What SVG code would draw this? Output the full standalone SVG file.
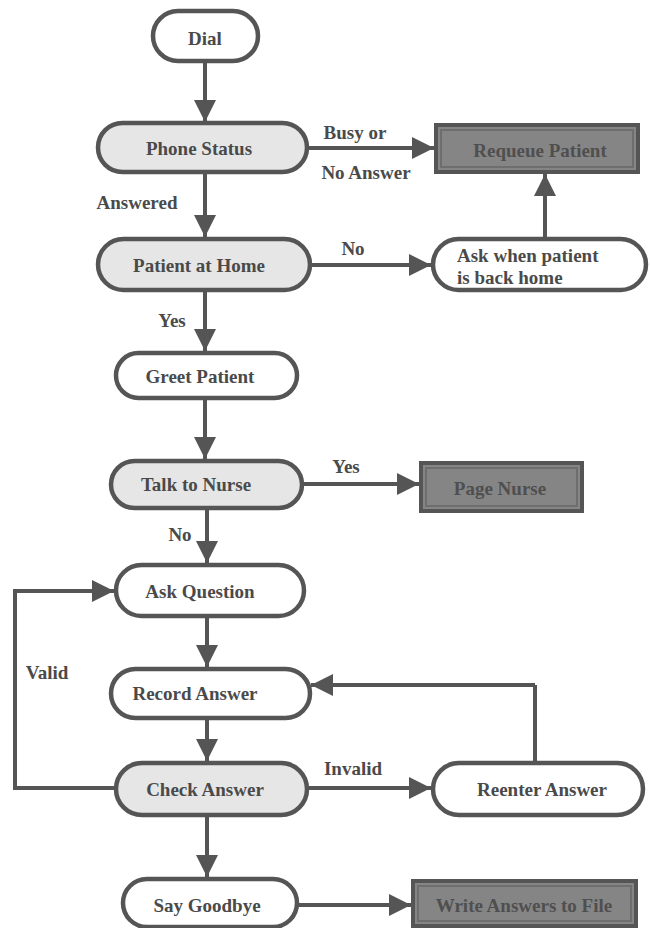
<svg xmlns="http://www.w3.org/2000/svg" width="650" height="928" viewBox="0 0 650 928" font-family="'Liberation Serif','Times New Roman',serif">
<defs>
<marker id="ah" viewBox="0 0 10 10" refX="10" refY="5" markerWidth="6" markerHeight="5.5" orient="auto" markerUnits="strokeWidth">
<path d="M0,0 L10,5 L0,10 z" fill="#555"/>
</marker>
</defs>
<style>
text{font-family:'Liberation Serif','Times New Roman',serif;font-weight:bold;font-size:19px;fill:#4a4a4a}
.n{text-anchor:middle;dominant-baseline:central}
.t{fill:#fff;stroke:#555;stroke-width:4.5}
.d{fill:#e6e6e6;stroke:#555;stroke-width:4.5}
.k{fill:#858585;stroke:#555;stroke-width:4}
.k2{fill:none;stroke:#6e6e6e;stroke-width:2}
.kt{fill:#4f4f4f}
.c path{fill:none;stroke:#555;stroke-width:4;marker-end:url(#ah)}
.c .p{marker-end:none}
</style>
<rect width="650" height="928" fill="#fff"/>
<g class="c" id="connectors">
<path d="M205,62 L205,122"/>
<path d="M307,148 L434,148"/>
<path d="M205,172 L205,237"/>
<path d="M310,265 L431,265"/>
<path d="M545,238 L545,174"/>
<path d="M205,290 L205,351"/>
<path d="M205,398 L205,459"/>
<path d="M302,484 L419,484"/>
<path d="M207,508 L207,563"/>
<path d="M207,616 L207,667"/>
<path d="M207,718 L207,761"/>
<path d="M115,788 L15,788 L15,591 L114,591"/>
<path d="M307,788 L431,788"/>
<path class="p" d="M535,762 L535,685"/>
<path d="M535,685 L311,685"/>
<path d="M207,815 L207,877"/>
<path d="M297,905 L411,905"/>
<text x="355" y="132" class="n">Busy or</text>
<text x="366" y="172" class="n">No Answer</text>
<text x="137" y="202" class="n">Answered</text>
<text x="353" y="248" class="n">No</text>
<text x="172" y="320" class="n">Yes</text>
<text x="346" y="466" class="n">Yes</text>
<text x="180" y="534" class="n">No</text>
<text x="47" y="672" class="n">Valid</text>
<text x="353" y="768" class="n">Invalid</text>
</g>
<g id="dial"><rect class="t" x="153" y="11" width="105" height="50" rx="25"/><text x="205" y="38" class="n">Dial</text></g>
<g id="phone"><rect class="d" x="98" y="123" width="209" height="49" rx="24.5"/><text x="199" y="148" class="n">Phone Status</text></g>
<g id="requeue"><rect class="k" x="436" y="125" width="202" height="47"/><rect class="k2" x="441" y="130" width="192" height="37"/><text x="540" y="150" class="n kt">Requeue Patient</text></g>
<g id="home"><rect class="d" x="98" y="239" width="212" height="51" rx="25.5"/><text x="199" y="265" class="n">Patient at Home</text></g>
<g id="askwhen"><rect class="t" x="433" y="239" width="213" height="51" rx="25.5"/><text x="457" y="255" dominant-baseline="central">Ask when patient</text><text x="457" y="277" dominant-baseline="central">is back home</text></g>
<g id="greet"><rect class="t" x="116" y="353" width="181" height="45" rx="22.5"/><text x="200" y="376" class="n">Greet Patient</text></g>
<g id="nurse"><rect class="d" x="111" y="461" width="191" height="47" rx="23.5"/><text x="196" y="484" class="n">Talk to Nurse</text></g>
<g id="page"><rect class="k" x="421" y="463" width="161" height="48"/><rect class="k2" x="426" y="468" width="151" height="38"/><text x="500" y="488" class="n kt">Page Nurse</text></g>
<g id="ask"><rect class="t" x="116" y="565" width="188" height="51" rx="25.5"/><text x="200" y="591" class="n">Ask Question</text></g>
<g id="record"><rect class="t" x="111" y="669" width="199" height="49" rx="24.5"/><text x="195" y="693" class="n">Record Answer</text></g>
<g id="check"><rect class="d" x="116" y="763" width="191" height="52" rx="26"/><text x="205" y="789" class="n">Check Answer</text></g>
<g id="reenter"><rect class="t" x="433" y="763" width="210" height="52" rx="26"/><text x="542" y="789" class="n">Reenter Answer</text></g>
<g id="bye"><rect class="t" x="123" y="879" width="174" height="48" rx="24"/><text x="207" y="905" class="n">Say Goodbye</text></g>
<g id="write"><rect class="k" x="413" y="881" width="223" height="45"/><rect class="k2" x="418" y="886" width="213" height="35"/><text x="524" y="905" class="n kt">Write Answers to File</text></g>
</svg>
